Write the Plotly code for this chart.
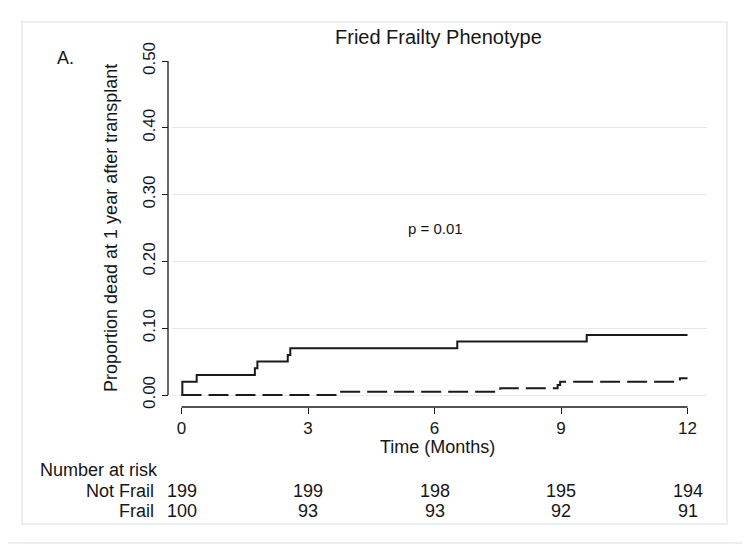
import plotly.graph_objects as go

# ---- data ----
frail_t = [0, 0.02, 0.36, 1.74, 1.80, 2.52, 2.58, 6.54, 9.61, 12.0]
frail_p = [0, 0.02, 0.03, 0.04, 0.05, 0.06, 0.07, 0.08, 0.09, 0.09]

notfrail_t = [0, 3.69, 7.56, 8.92, 8.98, 11.82, 12.0]
notfrail_p = [0, 0.005, 0.01, 0.015, 0.02, 0.025, 0.025]

risk_times = [0, 3, 6, 9, 12]
risk_notfrail = [199, 199, 198, 195, 194]
risk_frail = [100, 93, 93, 92, 91]

x_ticks = [0, 3, 6, 9, 12]
y_ticks = [0.0, 0.1, 0.2, 0.3, 0.4, 0.5]
y_ticklabels = ["0.00", "0.10", "0.20", "0.30", "0.40", "0.50"]

# ---- layout geometry (target screen pixels; page body adds an 8px offset) ----
W, H = 750, 547
OFF = 8
PL, PR, PT, PB = 172, 707, 60, 407      # plot area in screen pixels
ML = PL - OFF
MT = PT - OFF
MR = W - (PR - OFF)
MB = H - (PB - OFF)
AX_X = 168                               # y axis line position (screen px)
PW = (PR - AX_X)
PH = PB - PT


def px(X):
    return (X - AX_X) / PW


def py(Y):
    return (PB - Y) / PH


FONT = "Liberation Sans, Arial, Helvetica, sans-serif"
TXT = "#151515"
GRID = "#e3eaea"
FRAME = "#e6eaea"

fig = go.Figure()
fig.add_trace(go.Scatter(x=frail_t, y=frail_p, mode="lines", line_shape="hv",
                         line=dict(color="#1a1a1a", width=2), name="Frail",
                         showlegend=False))
fig.add_trace(go.Scatter(x=notfrail_t, y=notfrail_p, mode="lines", line_shape="hv",
                         line=dict(color="#1a1a1a", width=2, dash="20px,7px"),
                         name="Not Frail", showlegend=False))

shapes = []
shapes.append(dict(type="rect", xref="paper", yref="paper",
                   x0=px(3), x1=px(747), y0=py(543), y1=py(3),
                   line=dict(color=FRAME, width=1.5), layer="below"))
shapes.append(dict(type="rect", xref="paper", yref="paper",
                   x0=px(22), x1=px(727), y0=py(524), y1=py(22),
                   line=dict(color=FRAME, width=1.5), layer="below"))
shapes.append(dict(type="line", xref="paper", yref="y", x0=0, x1=0,
                   y0=y_ticks[0], y1=y_ticks[-1], line=dict(color="#1a1a1a", width=1.3)))
shapes.append(dict(type="line", xref="x", yref="paper", x0=x_ticks[0], x1=x_ticks[-1],
                   y0=0, y1=0, line=dict(color="#1a1a1a", width=1.3)))


def A(text, x, y, xref="paper", yref="paper", size=18, xanchor="center", angle=0):
    return dict(text=text, xref=xref, yref=yref, x=x, y=y, xanchor=xanchor,
                yanchor="middle", textangle=angle, showarrow=False,
                font=dict(size=size, color=TXT, family=FONT))


ann = []
ann.append(A("Fried Frailty Phenotype", px(438), py(37), size=20))
ann.append(A("A.", px(65), py(58)))
ann.append(A("Proportion dead at 1 year after transplant", px(111), 0.25, yref="y", angle=-90))
ann.append(A("Time (Months)", px(437.5), py(447)))
ann.append(A("p = 0.01", 6.02, 0.25, xref="x", yref="y", size=15))
ann.append(A("Number at risk", px(38), py(470), xanchor="left"))
ann.append(A("Not Frail", px(156), py(491), xanchor="right"))
ann.append(A("Frail", px(156), py(510.5), xanchor="right"))
for t, n in zip(risk_times, risk_notfrail):
    ann.append(A(str(n), t, py(491), xref="x"))
for t, n in zip(risk_times, risk_frail):
    ann.append(A(str(n), t, py(510.5), xref="x"))

x0px, x12px = 181.5, 687.5
ppm = (x12px - x0px) / 12.0
xr = [(PL - x0px) / ppm, (PR - x0px) / ppm]

fig.update_layout(
    width=W, height=H,
    margin=dict(l=AX_X - OFF, r=MR, t=MT, b=MB, pad=0),
    paper_bgcolor="white", plot_bgcolor="white",
    font=dict(family=FONT, color=TXT),
    shapes=shapes, annotations=ann,
    xaxis=dict(domain=[px(PL), 1], range=xr, tickvals=x_ticks, ticktext=[str(v) for v in x_ticks],
               ticks="outside", ticklen=6, tickwidth=1.3, tickcolor="#1a1a1a",
               showgrid=False, zeroline=False, showline=False, automargin=False,
               tickfont=dict(size=17, color=TXT, family=FONT)),
    yaxis=dict(range=[-12 / 668, 0.5 + 1 / 668], anchor="free", position=0,
               tickvals=y_ticks, ticktext=y_ticklabels, tickangle=-90,
               ticks="outside", ticklen=6, tickwidth=1.3, tickcolor="#1a1a1a",
               showgrid=True, gridcolor=GRID, gridwidth=1.2, zeroline=False, showline=False,
               automargin=False, tickfont=dict(size=17, color=TXT, family=FONT)),
)

fig.write_html("out.html")
